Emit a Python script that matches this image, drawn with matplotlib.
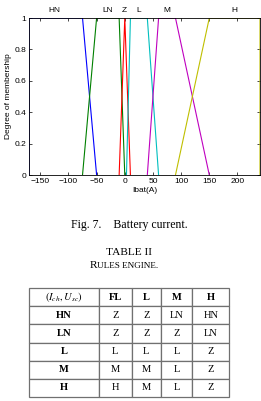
import matplotlib
matplotlib.use('Agg')
import matplotlib.pyplot as plt
import matplotlib.transforms as mtransforms
import numpy as np

# membership functions of battery current (trapezoids: a, b, c, d)
mf_names = ['HN', 'LN', 'Z', 'L', 'M', 'H']
mf_params = [
    [-170, -170, -75, -50],
    [-75, -50, -10, 0],
    [-10, 0, 0, 10],
    [3, 10, 40, 60],
    [40, 60, 90, 150],
    [90, 150, 240, 240],
]
mf_colors = ['#0000ff', '#008000', '#ff0000', '#00bfbf', '#bf00bf', '#bfbf00']
label_pos = [-125, -30, 0, 25, 75, 195]

x_ticks = [-150, -100, -50, 0, 50, 100, 150, 200]
y_ticks = [0, 0.2, 0.4, 0.6, 0.8, 1]
y_ticklabels = ['0', '0.2', '0.4', '0.6', '0.8', '1']

# rules table
col_labels = ['$(I_{ch}, U_{sc})$', 'FL', 'L', 'M', 'H']
row_labels = ['HN', 'LN', 'L', 'M', 'H']
rules = [
    ['Z', 'Z', 'LN', 'HN'],
    ['Z', 'Z', 'Z', 'LN'],
    ['L', 'L', 'L', 'Z'],
    ['M', 'M', 'L', 'Z'],
    ['H', 'M', 'L', 'Z'],
]

serif = 'Liberation Serif'
sans = 'Liberation Sans'
plt.rcParams['mathtext.fontset'] = 'stix'


def trapezoid(p):
    return [p[0], p[1], p[2], p[3]], [0, 1, 1, 0]


fig = plt.figure(figsize=(2.61, 4.01), dpi=100)
ax = fig.add_axes([29 / 261, 1 - 175 / 401, 231 / 261, 157 / 401])

for name, p, c, lp in zip(mf_names, mf_params, mf_colors, label_pos):
    xs, ys = trapezoid(p)
    ax.plot(xs, ys, color=c, lw=0.8)

trans = mtransforms.blended_transform_factory(ax.transData, ax.transAxes)
for name, lp in zip(mf_names, label_pos):
    ax.text(lp, 1.025, name, transform=trans, ha='center', va='bottom',
            fontsize=6, family=sans)

ax.set_xlim(-170, 240)
ax.set_ylim(0, 1)
ax.set_xticks(x_ticks)
ax.set_xticklabels(['\u2212' + str(-t) if t < 0 else str(t) for t in x_ticks])
ax.set_yticks(y_ticks)
ax.set_yticklabels(y_ticklabels)
ax.tick_params(direction='in', length=2, width=0.5, top=True, right=True,
               labelsize=6, pad=2)
for lab in ax.get_xticklabels() + ax.get_yticklabels():
    lab.set_family(sans)
for s in ax.spines.values():
    s.set_linewidth(0.6)
ax.set_xlabel('Ibat(A)', fontsize=6, family=sans, labelpad=1.5)
ax.set_ylabel('Degree of membership', fontsize=6, family=sans, labelpad=2)

fig.text(0.495, 1 - 225 / 401, 'Fig. 7.    Battery current.', ha='center',
         va='center', fontsize=8.5, family=serif)
fig.text(0.495, 1 - 252 / 401, 'TABLE II', ha='center', va='center',
         fontsize=8.2, family=serif)
fig.text(97 / 261, 1 - 266 / 401, 'R', ha='right', va='center',
         fontsize=8.2, family=serif)
fig.text(97 / 261, 1 - 266.4 / 401, 'ULES ENGINE.', ha='left', va='center',
         fontsize=6.6, family=serif)

# table
tax = fig.add_axes([0, 0, 1, 1])
tax.axis('off')
cell_text = [col_labels] + [[r] + row for r, row in zip(row_labels, rules)]
tbl = tax.table(cellText=cell_text, cellLoc='center',
                colWidths=[69.4, 33, 29, 31.6, 37],
                bbox=[29.3 / 261, 1 - 396.7 / 401, 200 / 261, 108.4 / 401])
tbl.auto_set_font_size(False)
for (r, c), cell in tbl.get_celld().items():
    cell.set_edgecolor('#707070')
    cell.set_linewidth(0.9)
    txt = cell.get_text()
    txt.set_fontsize(7.6)
    txt.set_family(serif)
    if (r == 0 and c > 0) or (c == 0 and r > 0):
        txt.set_fontweight('bold')

fig.savefig('out.png', dpi=100)
